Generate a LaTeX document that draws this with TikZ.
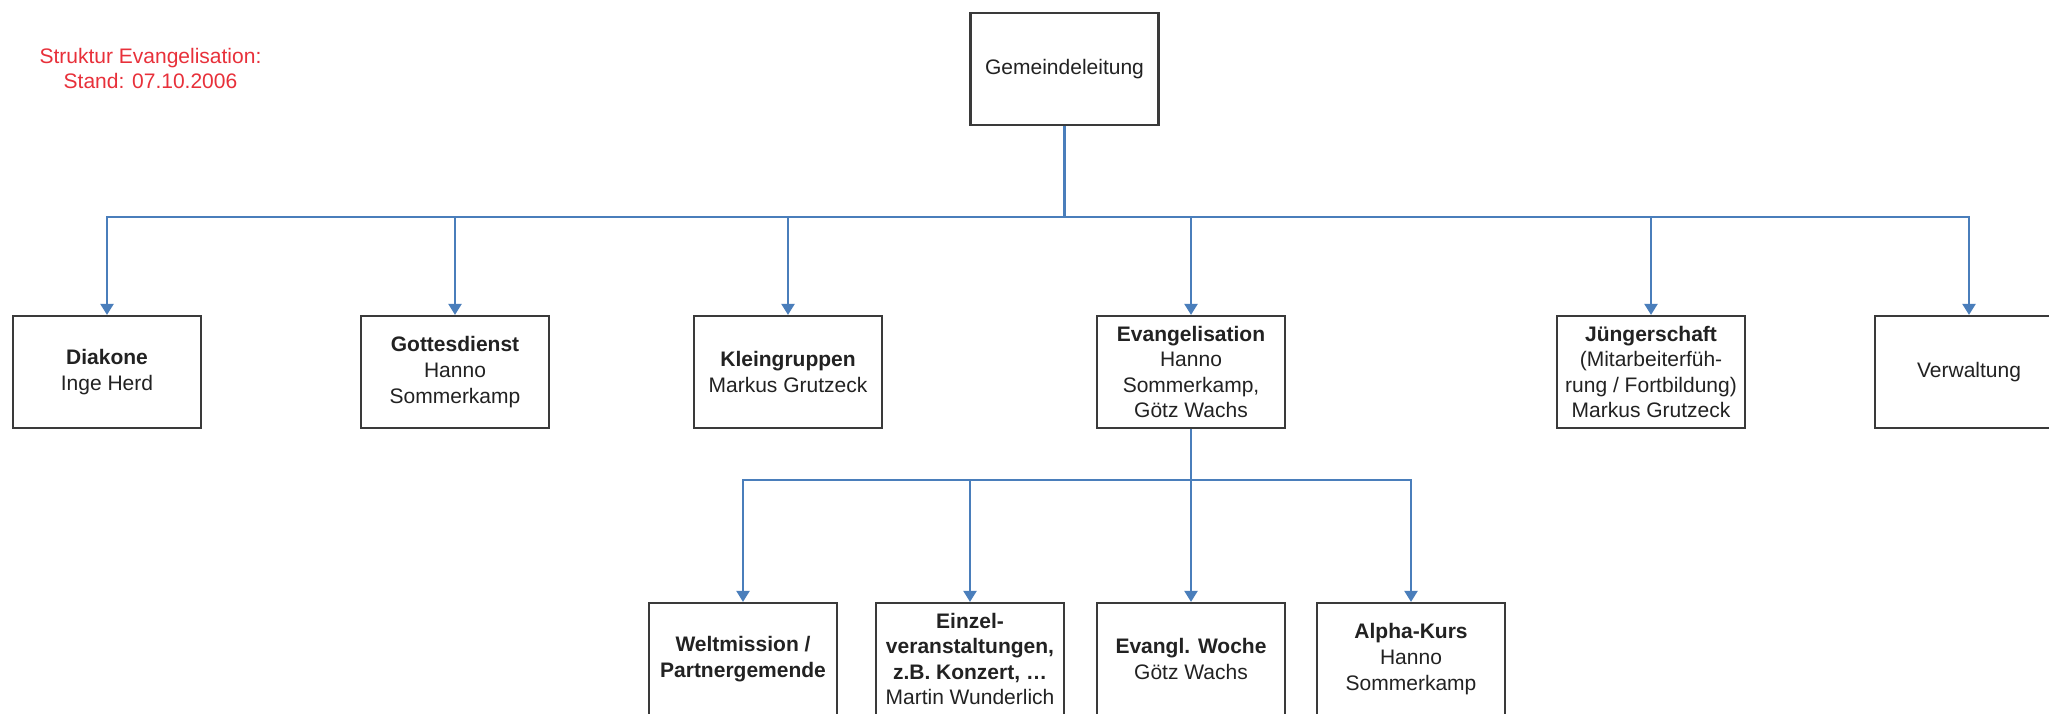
\documentclass[tikz,border=0pt]{standalone}
\usepackage{fontspec}
\setmainfont{Liberation Sans}
\usetikzlibrary{arrows.meta,shadows}
\definecolor{linkblue}{HTML}{4A7EBB}
\definecolor{boxline}{HTML}{3A3A3A}
\definecolor{txt}{HTML}{222222}
\definecolor{titlered}{HTML}{E8303A}
\tikzset{
  orgbox/.style={draw=boxline, line width=1.1pt, fill=white, minimum width=94pt, minimum height=56pt,
    align=center, text=txt, inner sep=1pt, font=\fontsize{10.5}{12.8}\selectfont,
    drop shadow={shadow xshift=0.5pt, shadow yshift=-0.7pt, fill=black!35, opacity=0.6}},
  conn/.style={draw=linkblue, line width=1.1pt, -{Triangle[width=6.5pt,length=5.5pt]}},
}
\begin{document}
\begin{tikzpicture}[x=0.5pt,y=-0.5pt]
\useasboundingbox (0,0) rectangle (2049,713);
\clip (0,0) rectangle (2049,713);
\fill[white] (0,0) rectangle (2049,713);

\node[text=titlered, align=center, font=\fontsize{10.5}{12.5}\selectfont] (title) at (150.5,68) {Struktur Evangelisation:\\Stand: 07.10.2006};

\node[orgbox] (gl) at (1064.5,69) {Gemeindeleitung};

\node[orgbox] (diak) at (107,372) {\textbf{Diakone}\\Inge Herd};
\node[orgbox] (gott) at (455,372) {\textbf{Gottesdienst}\\Hanno\\Sommerkamp};
\node[orgbox] (klein) at (788,372) {\textbf{Kleingruppen}\\Markus Grutzeck};
\node[orgbox] (evang) at (1191,372) {\textbf{Evangelisation}\\Hanno\\Sommerkamp,\\Götz Wachs};
\node[orgbox] (jueng) at (1651,372) {\textbf{Jüngerschaft}\\(Mitarbeiterfüh-\\rung / Fortbildung)\\Markus Grutzeck};
\node[orgbox] (verw) at (1969,372) {Verwaltung};

\node[orgbox] (welt) at (743,659) {\textbf{Weltmission /}\\\textbf{Partnergemende}};
\node[orgbox] (einz) at (970,659) {\textbf{Einzel-}\\\textbf{veranstaltungen,}\\\textbf{z.B. Konzert, …}\\Martin Wunderlich};
\node[orgbox] (woche) at (1191,659) {\textbf{Evangl. Woche}\\Götz Wachs};
\node[orgbox] (alpha) at (1411,659) {\textbf{Alpha-Kurs}\\Hanno\\Sommerkamp};

\coordinate (bus) at (0,217);
\coordinate (subbus) at (0,480);

\foreach \c in {diak,gott,klein,evang,jueng,verw}
  \draw[conn] (gl.south) -- (gl.south |- bus) -| (\c.north);
\foreach \c in {welt,einz,woche,alpha}
  \draw[conn] (evang.south) -- (evang.south |- subbus) -| (\c.north);
\end{tikzpicture}
\end{document}
